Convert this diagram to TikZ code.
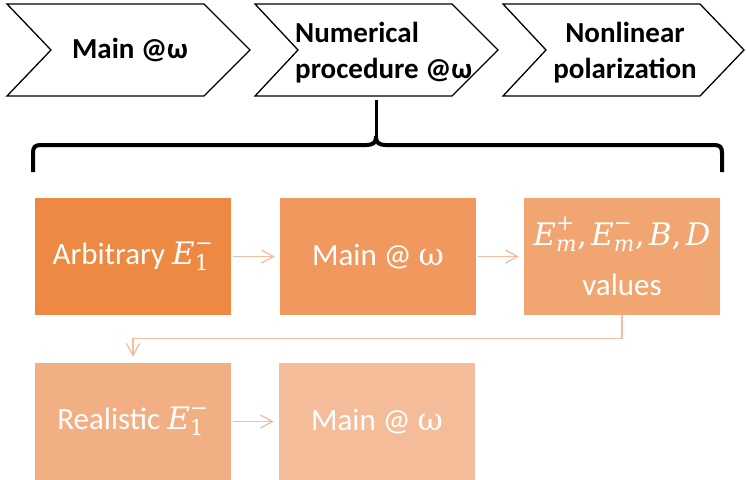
\documentclass[tikz,border=0pt]{standalone}
\usepackage{amsmath}
\usepackage{fontspec}
\setmainfont{Carlito}
\newfontfamily\wfont{DejaVu Serif}
\newcommand\mvar[1]{\text{\wfont\itshape #1}}
\newcommand\mnum[1]{\text{\wfont #1}}
\newcommand\mcomma{\text{\wfont ,}\,}
\usetikzlibrary{arrows.meta}
\definecolor{cA}{RGB}{237,137,67}
\definecolor{cB}{RGB}{240,152,94}
\definecolor{cC}{RGB}{241,165,112}
\definecolor{cD}{RGB}{242,175,132}
\definecolor{cE}{RGB}{244,188,152}
\definecolor{cL}{RGB}{246,188,160}
\begin{document}
\begin{tikzpicture}[x=1pt,y=-1pt,
  chev/.style={draw=black,line width=1.3pt,fill=white,line join=miter},
  chevtext/.style={font=\fontsize{29}{36}\selectfont\bfseries,inner sep=0pt,text=black},
  stage/.style={rectangle,minimum width=196pt,minimum height=117pt,inner sep=0pt,text=white,font=\fontsize{31}{38}\selectfont,align=center},
  conn/.style={draw=cL,line width=1.3pt,-{Straight Barb[length=12pt,width=13pt]}},
  brace/.style={draw=black,line width=4pt}]
\useasboundingbox (0,0) rectangle (746,479);
% chevrons
\draw[chev] (7,4) -- (204,4) -- (250,50) -- (204,96) -- (7,96) -- (51,50) -- cycle;
\draw[chev] (255,4) -- (452,4) -- (498,50) -- (452,96) -- (255,96) -- (298,50) -- cycle;
\draw[chev] (503,4) -- (700,4) -- (744,50) -- (700,96) -- (503,96) -- (546,50) -- cycle;
\node[chevtext] (t1) at (130,50) {Main @ω};
\node[chevtext,anchor=west,align=left] (t2) at (295,53) {Numerical\\procedure @ω};
\node[chevtext,align=center] (t3) at (625,53) {Nonlinear\\polarization};
% brace
\draw[brace] (33,172) -- (33,153) .. controls (33,147) and (35,145) .. (41,145) -- (366,145) .. controls (373,145) and (376,143) .. (376,136);
\draw[brace] (376,136) .. controls (376,143) and (379,145) .. (386,145) -- (714,145) .. controls (720,145) and (722,147) .. (722,153) -- (722,172);
\draw[black,line width=3pt] (376,138) -- (376,100);
% boxes
\node[stage,fill=cA] (b1) at (133,256.5) {Arbitrary $\mvar{E}_{\mnum{1}}^{\mnum{−}}$};
\node[stage,fill=cB] (b2) at (378,256.5) {Main @ {\wfont ω}};
\node[stage,fill=cC] (b3) at (622,256.5) {$\mvar{E}_{\mvar{m}}^{\mnum{+}}\mcomma \mvar{E}_{\mvar{m}}^{\mnum{−}}\mcomma \mvar{B}\mcomma \mvar{D}$\\[12pt]values};
\node[stage,fill=cD] (b4) at (133,421.5) {Realistic $\mvar{E}_{\mnum{1}}^{\mnum{−}}$};
\node[stage,fill=cE] (b5) at (377,421.5) {Main @ {\wfont ω}};
% connectors
\draw[conn] ([xshift=2pt]b1.east) -- ([xshift=-5pt]b2.west);
\draw[conn] ([xshift=2pt]b2.east) -- ([xshift=-5pt]b3.west);
\draw[conn] (b3.south) -- ++(0,23) -| ([yshift=6pt]b4.north);
\draw[conn] ([xshift=2pt]b4.east) -- ([xshift=-5pt]b5.west);
\end{tikzpicture}
\end{document}
